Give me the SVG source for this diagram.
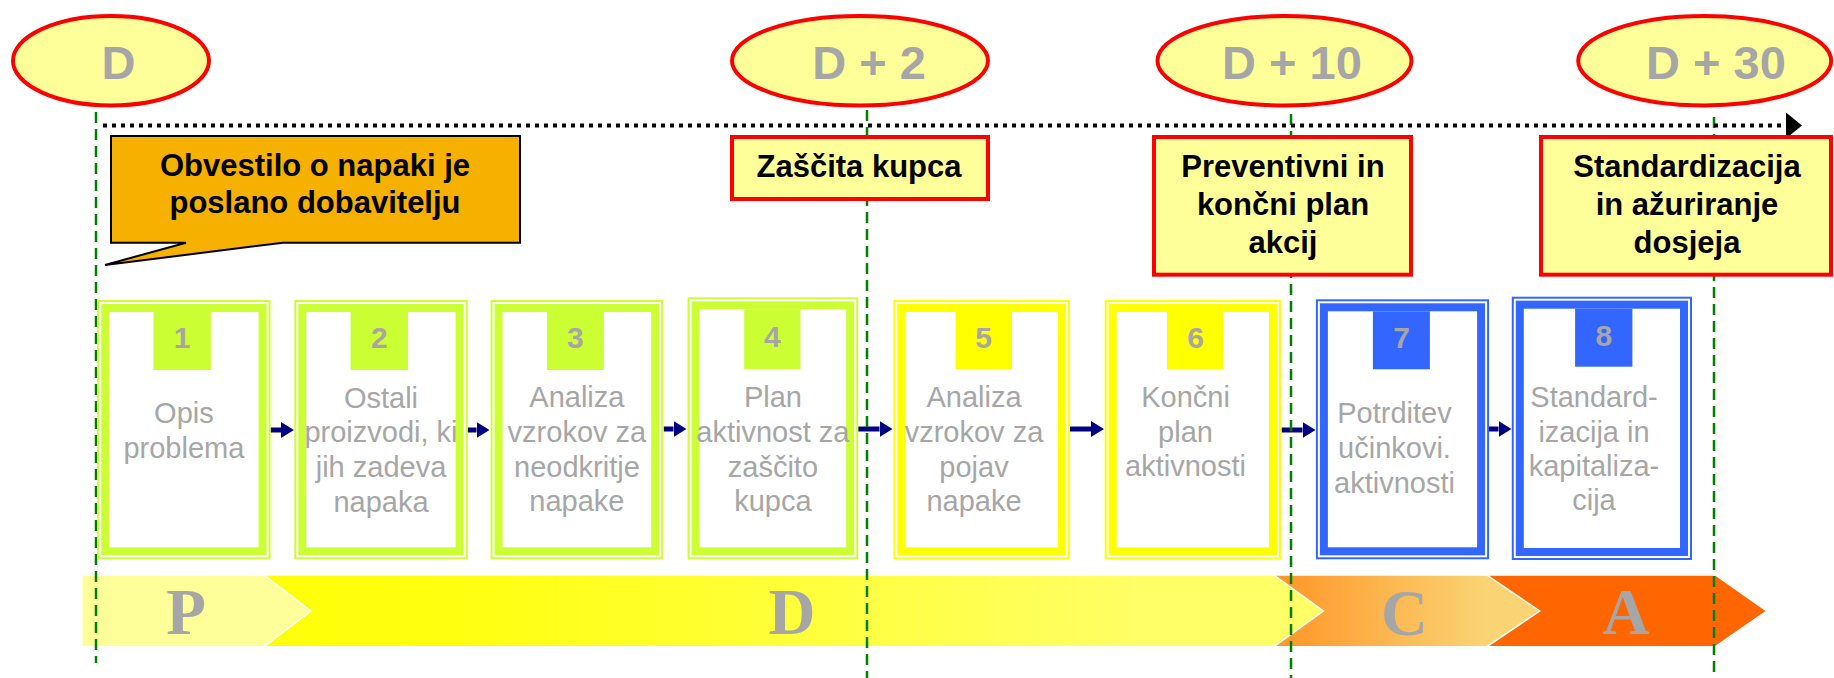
<svg xmlns="http://www.w3.org/2000/svg" width="1834" height="678" viewBox="0 0 1834 678">
<defs>
<style>
.ell{fill:#FFFF99;stroke:#FF0000;stroke-width:4}
.ellt{font-family:"Liberation Sans",Arial,sans-serif;font-weight:bold;font-size:47px;fill:#A6A6A6;text-anchor:middle}
.box{fill:#FFFF99;stroke:#FF0000;stroke-width:4}
.boxt{font-family:"Liberation Sans",Arial,sans-serif;font-weight:bold;font-size:31px;fill:#000;text-anchor:middle}
.num{font-family:"Liberation Sans",Arial,sans-serif;font-weight:bold;font-size:30px;fill:#A6A6A6;text-anchor:middle}
.ct{font-family:"Liberation Sans",Arial,sans-serif;font-size:29px;fill:#A6A6A6;text-anchor:middle}
.pdca{font-family:"Liberation Serif","Times New Roman",serif;font-weight:bold;font-size:65px;fill:#A6A6A6;text-anchor:middle}
.g .o{fill:none;stroke:#CCFF33;stroke-width:2}
.g .i{fill:#fff;stroke:#CCFF33;stroke-width:8}
.g .tab{fill:#CCFF33}
.y .o{fill:none;stroke:#FFFF00;stroke-width:2}
.y .i{fill:#fff;stroke:#FFFF00;stroke-width:8}
.y .tab{fill:#FFFF00}
.b .o{fill:none;stroke:#3366FF;stroke-width:2}
.b .i{fill:#fff;stroke:#3366FF;stroke-width:8}
.b .tab{fill:#3366FF}
.gl{stroke:#008000;stroke-width:2.5;stroke-dasharray:11 6;fill:none}
.ar{stroke:#000080;stroke-width:5;fill:none;marker-end:url(#ah)}
.chev{stroke:#fff;stroke-width:1.5}
</style>
<marker id="ah" markerUnits="userSpaceOnUse" markerWidth="13" markerHeight="16" refX="0" refY="8" orient="auto">
<path d="M0,0 L13,8 L0,16 Z" fill="#000080"/>
</marker>
<marker id="tah" markerUnits="userSpaceOnUse" markerWidth="16" markerHeight="26" refX="0" refY="13" orient="auto">
<path d="M0,0 L16,13 L0,26 Z" fill="#000"/>
</marker>
<linearGradient id="gD" x1="0" y1="0" x2="1" y2="0">
<stop offset="0" stop-color="#FFFF00"/>
<stop offset="0.3" stop-color="#FFFF10"/>
<stop offset="0.85" stop-color="#FFFF66"/>
<stop offset="1" stop-color="#FFFF66"/>
</linearGradient>
<linearGradient id="gC" x1="0" y1="0" x2="1" y2="0">
<stop offset="0" stop-color="#FF9526"/>
<stop offset="0.8" stop-color="#FAD474"/>
<stop offset="1" stop-color="#FAD474"/>
</linearGradient>
</defs>

<g id="pdca-band">
<polygon class="chev" points="1486.7,575 1715.3,575 1766.6,611 1715.3,646.7 1486.7,646.7" fill="#FF6600"/>
<polygon class="chev" points="1273.8,575 1486.7,575 1539.7,611 1486.7,646.7 1273.8,646.7" fill="url(#gC)"/>
<polygon class="chev" points="81.8,575 1273.8,575 1323.4,611 1273.8,646.7 81.8,646.7" fill="url(#gD)"/>
<polygon class="chev" points="81.8,575 263.8,575 310.8,611 263.8,646.7 81.8,646.7" fill="#FFFF99"/>
<text class="pdca" x="186" y="634">P</text>
<text class="pdca" x="792" y="634">D</text>
<text class="pdca" x="1404.5" y="635">C</text>
<text class="pdca" x="1626" y="634">A</text>
</g>

<g id="connectors">
<line class="ar" x1="270.6" y1="430" x2="281" y2="430"/>
<line class="ar" x1="467.7" y1="430" x2="476.5" y2="430"/>
<line class="ar" x1="663.8" y1="429" x2="673.5" y2="429"/>
<line class="ar" x1="858.2" y1="429" x2="879.5" y2="429"/>
<line class="ar" x1="1069.9" y1="429" x2="1091" y2="429"/>
<line class="ar" x1="1281.7" y1="430" x2="1302.5" y2="430"/>
<line class="ar" x1="1489" y1="429" x2="1498.5" y2="429"/>
</g>

<g id="milestone-lines">
<line class="gl" x1="96" y1="112" x2="96" y2="663"/>
<line class="gl" x1="867" y1="110" x2="867" y2="678"/>
<line class="gl" x1="1291" y1="114" x2="1291" y2="678"/>
<line class="gl" x1="1714" y1="117" x2="1714" y2="678"/>
</g>

<g id="timeline">
<line x1="103" y1="125.5" x2="1786" y2="125.5" stroke="#000" stroke-width="4" stroke-dasharray="4 5" marker-end="url(#tah)"/>
</g>

<g id="callout">
<path d="M111,136 H520 V242.7 H283 L105,265 L186,242.7 H111 Z" fill="#F5B000" stroke="#000" stroke-width="2"/>
<text class="boxt" x="315" y="176">Obvestilo o napaki je</text>
<text class="boxt" x="315" y="213">poslano dobavitelju</text>
</g>

<g id="box-zascita">
<rect class="box" x="732" y="137" width="256" height="62"/>
<text class="boxt" x="859" y="177">Zaščita kupca</text>
</g>
<g id="box-preventivni">
<rect class="box" x="1154" y="137" width="257" height="137.7"/>
<text class="boxt" x="1283" y="177">Preventivni in</text>
<text class="boxt" x="1283" y="215">končni plan</text>
<text class="boxt" x="1283" y="253">akcij</text>
</g>
<g id="box-standardizacija">
<rect class="box" x="1541" y="137" width="290" height="137.7"/>
<text class="boxt" x="1687" y="177">Standardizacija</text>
<text class="boxt" x="1687" y="215">in ažuriranje</text>
<text class="boxt" x="1687" y="253">dosjeja</text>
</g>

<g id="ms-d">
<ellipse class="ell" cx="111" cy="60.7" rx="98" ry="44.7"/>
<text class="ellt" x="118.6" y="79">D</text>
</g>
<g id="ms-d2">
<ellipse class="ell" cx="860" cy="60.7" rx="128" ry="44.7"/>
<text class="ellt" x="869" y="79">D + 2</text>
</g>
<g id="ms-d10">
<ellipse class="ell" cx="1284.5" cy="60.7" rx="127" ry="44.7"/>
<text class="ellt" x="1292" y="79">D + 10</text>
</g>
<g id="ms-d30">
<ellipse class="ell" cx="1704.7" cy="60.7" rx="126.5" ry="44.7"/>
<text class="ellt" x="1716" y="79">D + 30</text>
</g>

<g id="step1" class="g">
<rect class="o" x="98.2" y="301" width="171.4" height="257.3"/>
<rect class="i" x="105.2" y="308" width="157.4" height="243.3"/>
<rect class="tab" x="153.5" y="312" width="57.4" height="58"/>
<text class="num" x="182.2" y="348">1</text>
<text class="ct" x="183.9" y="423.3">Opis</text>
<text class="ct" x="183.9" y="458.3">problema</text>
</g>
<g id="step2" class="g">
<rect class="o" x="295.3" y="301" width="171.4" height="257.3"/>
<rect class="i" x="302.3" y="308" width="157.4" height="243.3"/>
<rect class="tab" x="350.6" y="312" width="57.4" height="58"/>
<text class="num" x="379.3" y="348">2</text>
<text class="ct" x="381" y="407.7">Ostali</text>
<text class="ct" x="381" y="442.3">proizvodi, ki</text>
<text class="ct" x="381" y="476.7">jih zadeva</text>
<text class="ct" x="381" y="511.5">napaka</text>
</g>
<g id="step3" class="g">
<rect class="o" x="491.6" y="301" width="170.6" height="257.3"/>
<rect class="i" x="498.6" y="308" width="156.6" height="243.3"/>
<rect class="tab" x="546.9" y="312" width="57" height="58"/>
<text class="num" x="575.4" y="348">3</text>
<text class="ct" x="576.9" y="406.7">Analiza</text>
<text class="ct" x="576.9" y="441.7">vzrokov za</text>
<text class="ct" x="576.9" y="476.7">neodkritje</text>
<text class="ct" x="576.9" y="511">napake</text>
</g>
<g id="step4" class="g">
<rect class="o" x="688.6" y="298.3" width="168.6" height="260"/>
<rect class="i" x="695.6" y="305.3" width="154.6" height="246"/>
<rect class="tab" x="744.2" y="309.3" width="56.2" height="59.7"/>
<text class="num" x="772.3" y="346.5">4</text>
<text class="ct" x="772.9" y="406.7">Plan</text>
<text class="ct" x="772.9" y="441.7">aktivnost za</text>
<text class="ct" x="772.9" y="476.7">zaščito</text>
<text class="ct" x="772.9" y="511">kupca</text>
</g>
<g id="step5" class="y">
<rect class="o" x="894.4" y="301" width="174.5" height="257.3"/>
<rect class="i" x="901.4" y="308" width="160.5" height="243.3"/>
<rect class="tab" x="955.5" y="312" width="56.5" height="57"/>
<text class="num" x="983.6" y="347.5">5</text>
<text class="ct" x="974" y="406.7">Analiza</text>
<text class="ct" x="974" y="441.7">vzrokov za</text>
<text class="ct" x="974" y="476.7">pojav</text>
<text class="ct" x="974" y="511">napake</text>
</g>
<g id="step6" class="y">
<rect class="o" x="1105.7" y="301" width="174.3" height="257.3"/>
<rect class="i" x="1112.7" y="308" width="160.3" height="243.3"/>
<rect class="tab" x="1167" y="312" width="56.7" height="57"/>
<text class="num" x="1195.5" y="347.5">6</text>
<text class="ct" x="1185.5" y="406.7">Končni</text>
<text class="ct" x="1185.5" y="441.7">plan</text>
<text class="ct" x="1185.5" y="475.5">aktivnosti</text>
</g>
<g id="step7" class="b">
<rect class="o" x="1316.9" y="300.3" width="171.2" height="258"/>
<rect class="i" x="1323.9" y="307.3" width="157.2" height="244"/>
<rect class="tab" x="1372.9" y="311.3" width="57" height="58"/>
<text class="num" x="1401.5" y="347.5">7</text>
<text class="ct" x="1394.5" y="423.3">Potrditev</text>
<text class="ct" x="1394.5" y="458.3">učinkovi.</text>
<text class="ct" x="1394.5" y="493.3">aktivnosti</text>
</g>
<g id="step8" class="b">
<rect class="o" x="1512.8" y="297.7" width="178.2" height="261.3"/>
<rect class="i" x="1519.8" y="304.7" width="164.2" height="247.3"/>
<rect class="tab" x="1575.1" y="308.7" width="57.3" height="58"/>
<text class="num" x="1603.8" y="345.7">8</text>
<text class="ct" x="1594" y="406.7">Standard-</text>
<text class="ct" x="1594" y="441.7">izacija in</text>
<text class="ct" x="1594" y="476">kapitaliza-</text>
<text class="ct" x="1594" y="510">cija</text>
</g>
</svg>
